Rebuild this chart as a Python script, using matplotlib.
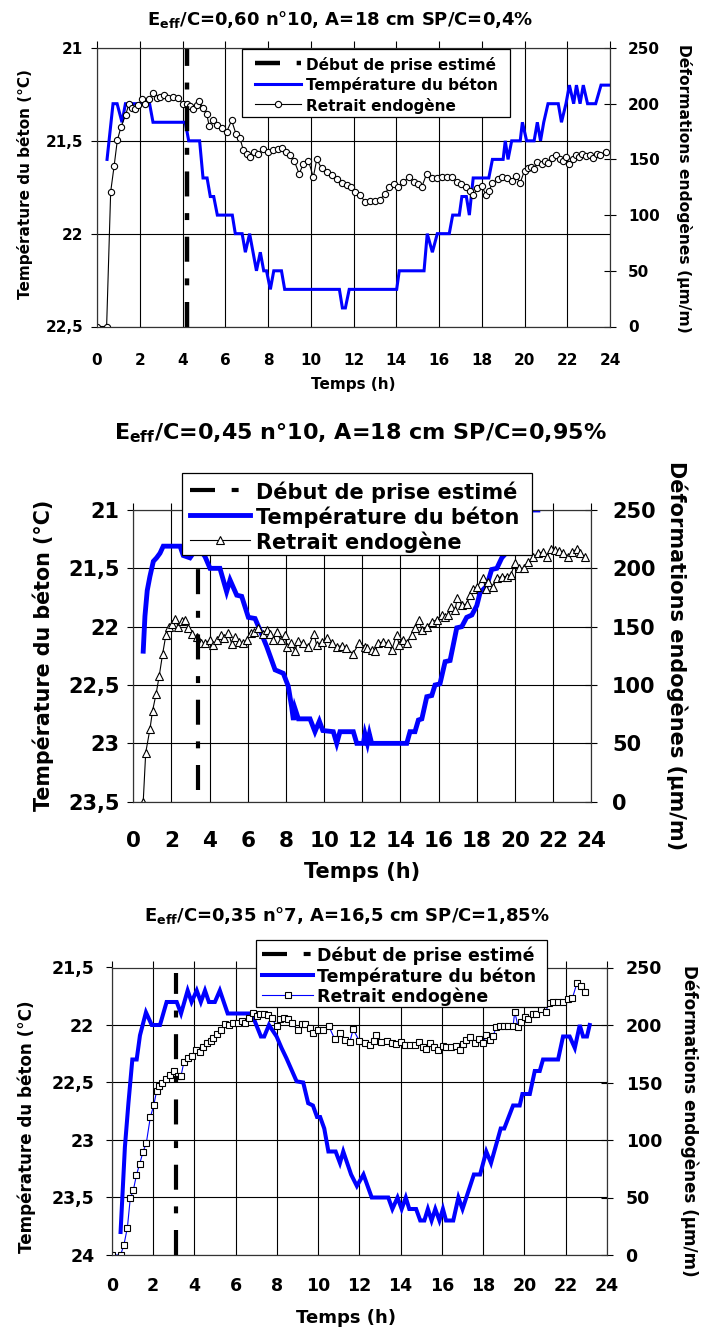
import matplotlib
matplotlib.use('Agg')
import matplotlib.pyplot as plt
from matplotlib.ticker import FuncFormatter
from matplotlib.lines import Line2D
from matplotlib.patches import Rectangle

plt.rcParams['font.family'] = ['DejaVu Sans']
plt.rcParams['font.weight'] = 'bold'
plt.rcParams['mathtext.fontset'] = 'custom'
plt.rcParams['mathtext.rm'] = 'DejaVu Sans:bold'
plt.rcParams['mathtext.it'] = 'DejaVu Sans:bold'
plt.rcParams['mathtext.bf'] = 'DejaVu Sans:bold'
plt.rcParams['lines.scale_dashes'] = False

# ---------------- data ----------------
titles = [r"E$_{\mathrm{eff}}$/C=0,60 n°10, A=18 cm SP/C=0,4%",
          r"E$_{\mathrm{eff}}$/C=0,45 n°10, A=18 cm SP/C=0,95%",
          r"E$_{\mathrm{eff}}$/C=0,35 n°7, A=16,5 cm SP/C=1,85%"]
legend_labels = ["Début de prise estimé", "Température du béton", "Retrait endogène"]
xlabel = "Temps (h)"
ylabel_left = "Température du béton (°C)"
ylabel_right = "Déformations endogènes (µm/m)"

# Panel 1
p1_temp_t = [0.47, 0.75, 0.94, 1.17, 1.33, 2.46, 2.62, 4.13, 4.29, 4.8, 4.96, 5.15, 5.3, 5.46, 5.63,
             6.33, 6.47, 6.79, 6.94, 7.14, 7.46, 7.64, 7.8, 7.93, 8.11, 8.27, 8.63, 8.78, 11.34, 11.48,
             11.62, 11.8, 14.02, 14.14, 15.3, 15.45, 15.69, 15.92, 16.48, 16.64, 16.95, 17.07, 17.28,
             17.42, 17.6, 18.33, 18.5, 19.0, 19.1, 19.23, 19.4, 19.8, 19.9, 20.1, 20.45, 20.6, 20.75,
             20.9, 21.1, 21.58, 21.73, 21.94, 22.1, 22.3, 22.43, 22.6, 22.75, 22.95, 23.33, 23.58, 24.0]
p1_temp_v = [21.6, 21.3, 21.3, 21.4, 21.3, 21.3, 21.4, 21.4, 21.5, 21.5, 21.7, 21.7, 21.8, 21.8, 21.9,
             21.9, 22.0, 22.0, 22.1, 22.0, 22.2, 22.1, 22.2, 22.2, 22.3, 22.2, 22.2, 22.3, 22.3, 22.4,
             22.4, 22.3, 22.3, 22.2, 22.2, 22.0, 22.1, 22.0, 22.0, 21.9, 21.9, 21.8, 21.8,
             21.9, 21.7, 21.7, 21.6, 21.6, 21.5, 21.6, 21.5, 21.5, 21.4, 21.5, 21.5, 21.4, 21.5,
             21.4, 21.3, 21.3, 21.4, 21.3, 21.2, 21.3, 21.2, 21.3, 21.2, 21.3, 21.3, 21.2, 21.2]
p1_def_t = [0.0, 0.45, 0.64, 0.8, 0.95, 1.12, 1.34, 1.5, 1.62, 1.78, 1.93, 2.12, 2.25, 2.43, 2.64, 2.79,
            2.95, 3.13, 3.34, 3.57, 3.8, 4.0, 4.2, 4.35, 4.5, 4.66, 4.79, 4.97, 5.13, 5.25, 5.41, 5.6,
            5.83, 6.07, 6.3, 6.5, 6.69, 6.85, 7.0, 7.16, 7.35, 7.55, 7.78, 8.02, 8.25, 8.48, 8.64, 8.84,
            9.03, 9.22, 9.46, 9.65, 9.89, 10.12, 10.28, 10.51, 10.75, 10.98, 11.21, 11.45, 11.68, 11.87,
            12.07, 12.3, 12.54, 12.77, 13.0, 13.24, 13.47, 13.67, 13.9, 14.1, 14.33, 14.61, 14.83, 15.03,
            15.19, 15.42, 15.66, 15.89, 16.13, 16.36, 16.59, 16.83, 17.05, 17.28, 17.45, 17.6, 17.8,
            18.0, 18.2, 18.35, 18.5, 18.75, 18.96, 19.2, 19.4, 19.6, 19.8, 20.0, 20.15, 20.3, 20.45,
            20.6, 20.8, 20.95, 21.1, 21.27, 21.48, 21.65, 21.8, 21.95, 22.1, 22.25, 22.4, 22.55, 22.7,
            22.9, 23.05, 23.2, 23.37, 23.55, 23.8]
p1_def_v = [0, 0, 121, 144, 167, 179, 190, 200, 196, 195, 199, 204, 200, 204, 210, 205,
            206, 208, 205, 206, 205, 200, 200, 198, 195, 199, 202, 196, 191, 180, 185, 181,
            178, 175, 185, 173, 169, 158, 155, 152, 157, 155, 159, 157, 158, 159, 160, 157,
            154, 149, 137, 146, 149, 134, 150, 142, 139, 136, 132, 129, 127, 125,
            121, 118, 112, 113, 113, 114, 119, 125, 128, 125, 130, 134, 130, 128,
            125, 137, 133, 133, 134, 134, 134, 130, 128, 125, 122, 118, 124,
            126, 118, 122, 129, 132, 134, 133, 131, 135, 129, 140, 142, 143, 141,
            148, 146, 149, 147, 151, 154, 150, 149, 152, 146, 150, 154, 152, 155,
            153, 154, 151, 155, 154, 157]
p1_prise = 4.2

# Panel 2
p2_temp_t = [0.52, 0.61, 0.73, 0.87, 1.05, 1.22, 1.4, 1.57, 2.45, 2.62, 2.97, 3.14, 3.5, 3.76, 4.02,
             4.54, 4.89, 5.07, 5.42, 5.68, 6.03, 6.38, 6.64, 6.99, 7.43, 7.86, 8.12, 8.3, 8.39, 8.47,
             8.65, 9.26, 9.52, 9.75, 9.93, 10.48, 10.66, 10.83, 11.53, 11.71, 12.06, 12.14, 12.27,
             12.37, 12.49, 14.33, 14.5, 14.76, 14.94, 15.12, 15.38, 15.64, 15.81, 16.07, 16.34, 16.6,
             16.95, 17.21, 17.47, 17.74, 18.0, 18.17, 18.52, 18.78, 19.05, 19.31, 19.53, 19.8, 20.1,
             20.4, 20.7, 21.0, 21.2]
p2_temp_v = [22.21, 21.91, 21.69, 21.57, 21.44, 21.41, 21.37, 21.31, 21.31, 21.39, 21.41, 21.37, 21.34,
             21.4, 21.5, 21.5, 21.7, 21.6, 21.73, 21.74, 21.92, 21.93, 22.03, 22.17, 22.37, 22.4, 22.51,
             22.69, 22.8, 22.7, 22.79, 22.79, 22.9, 22.81, 22.89, 22.9, 23.0, 22.9, 22.9, 23.0, 23.0,
             22.92, 23.0, 22.92, 23.0, 23.0, 22.9, 22.9, 22.8, 22.79, 22.6, 22.59, 22.5, 22.49, 22.3,
             22.29, 22.01, 22.0, 21.92, 21.9, 21.82, 21.71, 21.65, 21.51, 21.5, 21.41, 21.37, 21.25,
             21.15, 21.05, 21.0, 21.0, 21.0]
p2_def_t = [0.52, 0.65, 0.87, 1.01, 1.19, 1.36, 1.54, 1.71, 1.87, 2.04, 2.19, 2.36, 2.53, 2.71, 2.88,
            3.06, 3.32, 3.55, 3.76, 4.02, 4.19, 4.4, 4.58, 4.75, 4.98, 5.16, 5.33, 5.56, 5.77, 5.97,
            6.15, 6.33, 6.55, 6.78, 6.99, 7.16, 7.34, 7.51, 7.72, 7.95, 8.04, 8.25, 8.47, 8.65, 8.91,
            9.17, 9.47, 9.61, 9.87, 10.13, 10.4, 10.66, 10.92, 11.15, 11.5, 11.85, 12.14, 12.23, 12.49,
            12.67, 12.84, 13.1, 13.36, 13.54, 13.8, 13.94, 14.15, 14.33, 14.59, 14.76, 14.99, 15.12,
            15.38, 15.64, 15.9, 16.16, 16.34, 16.51, 16.64, 16.86, 16.98, 17.21, 17.47, 17.65, 17.82,
            18.0, 18.31, 18.48, 18.61, 18.84, 19.05, 19.31, 19.57, 19.78, 20.0, 20.23, 20.47, 20.7,
            20.97, 21.23, 21.46, 21.67, 21.88, 22.1, 22.33, 22.54, 22.8, 22.98, 23.24, 23.41, 23.68]
p2_def_v = [0, 42, 62, 78, 92, 108, 127, 143, 149.5, 152, 157, 149.5, 155, 155.7, 148.6,
            144, 141, 136, 136, 138.6, 134, 138.6, 143, 140, 145, 135, 141, 137, 135.7, 139,
            145, 145.7, 148.6, 144, 147, 143.7, 138.6, 145.7, 138.6, 143, 133, 135.7, 129.4, 138, 135.7,
            133, 143.7, 134, 137, 140, 135.7, 133, 133.5, 131.5, 127, 135.7, 133, 131.5, 130,
            129.4, 136, 137, 135.7, 130, 143, 134, 138.6, 135.7, 143, 148.6, 155.7, 147,
            150, 154.3, 155.7, 160, 158.6, 160, 167, 164.3, 175, 168.6, 169.4, 177, 182,
            183.7, 191.5, 182, 188.6, 184, 191.5, 193, 193, 194.3, 204.3, 200, 200, 205.7,
            209.4, 212.9, 214.3, 210, 216.3, 215.7, 215, 213.4, 210, 214.3, 216.3, 212.9, 209.4]
p2_prise = 3.39

# Panel 3
p3_temp_t = [0.43, 0.64, 0.81, 1.0, 1.21, 1.37, 1.66, 1.94, 2.34, 2.66, 3.15, 3.36, 3.68, 3.87, 4.12,
             4.32, 4.52, 4.71, 5.0, 5.24, 5.62, 6.78, 6.94, 7.23, 7.39, 7.62, 7.99, 8.23, 8.47, 8.96,
             9.28, 9.52, 9.75, 9.95, 10.1, 10.3, 10.5, 10.85, 11.06, 11.22, 11.6, 11.88, 12.2, 12.6,
             13.4, 13.6, 13.85, 14.05, 14.25, 14.42, 14.75, 14.95, 15.15, 15.32, 15.5, 15.68, 15.88,
             16.05, 16.2, 16.55, 16.8, 17.0, 17.55, 17.85, 18.15, 18.38, 18.85, 19.02, 19.45, 19.77,
             19.9, 20.26, 20.5, 20.74, 20.9, 21.63, 21.87, 22.19, 22.44, 22.68, 22.84, 23.03, 23.16]
p3_temp_v = [23.8, 23.06, 22.68, 22.3, 22.3, 22.09, 21.89, 22.0, 22.0, 21.8, 21.8, 21.9, 21.7, 21.8, 21.7,
             21.8, 21.7, 21.8, 21.8, 21.7, 21.9, 21.9, 21.97, 22.1, 22.1, 22.0, 22.1, 22.2, 22.29, 22.49,
             22.5, 22.68, 22.7, 22.8, 22.8, 22.9, 23.1, 23.1, 23.2, 23.1, 23.3, 23.4, 23.3, 23.5,
             23.5, 23.6, 23.5, 23.6, 23.5, 23.6, 23.6, 23.7, 23.7, 23.6, 23.7, 23.6, 23.7,
             23.6, 23.7, 23.7, 23.5, 23.6, 23.3, 23.3, 23.1, 23.2, 22.9, 22.9, 22.7, 22.7,
             22.6, 22.6, 22.4, 22.4, 22.3, 22.3, 22.1, 22.1, 22.2, 22.0, 22.1, 22.1, 22.0]
p3_def_t = [0.0, 0.43, 0.59, 0.76, 0.9, 1.05, 1.2, 1.36, 1.52, 1.68, 1.87, 2.04, 2.18, 2.31, 2.45, 2.61,
            2.82, 3.02, 3.2, 3.36, 3.5, 3.71, 3.9, 4.07, 4.28, 4.44, 4.6, 4.81, 4.92, 5.08, 5.29, 5.49,
            5.68, 5.89, 6.1, 6.3, 6.46, 6.65, 6.86, 7.02, 7.18, 7.39, 7.58, 7.75, 7.99, 8.15, 8.34,
            8.55, 8.75, 9.01, 9.2, 9.39, 9.6, 9.76, 10.0, 10.25, 10.52, 10.81, 11.06, 11.3, 11.54,
            11.7, 11.99, 12.27, 12.51, 12.7, 12.83, 13.07, 13.32, 13.56, 13.8, 14.0, 14.2, 14.45,
            14.69, 14.9, 15.06, 15.22, 15.41, 15.61, 15.82, 16.03, 16.22, 16.46, 16.67, 16.87, 17.03,
            17.19, 17.38, 17.59, 17.8, 18.0, 18.16, 18.32, 18.48, 18.64, 18.8, 19.0, 19.2, 19.45,
            19.53, 19.69, 19.85, 20.01, 20.17, 20.42, 20.58, 20.82, 21.03, 21.19, 21.38, 21.63, 21.87,
            22.11, 22.32, 22.55, 22.76, 22.92]
p3_def_v = [0, 0, 8.7, 23.8, 49.3, 56.5, 69.6, 79.5, 89.8, 97.7, 119.7, 130.4, 142.9, 147, 149.3, 153,
            156.5, 160.3, 155.7, 155.7, 168, 171, 173.3, 178.3, 176.8, 180.6, 184, 186, 188.4, 192, 195.7,
            200.9, 200, 201.5, 201.5, 203.7, 201.5, 205.8, 210.7, 207.8, 209.3, 209.3, 208.7, 205.8, 199,
            205, 205.8, 205, 201.5, 195.7, 200.9, 200.9, 197, 193.3, 195.7, 196, 199, 187.6, 193.3, 187,
            185.5, 196.3, 186.4, 184, 182.6, 186.4, 191.3, 185.5, 186.4, 184, 183.5, 185.5, 182.6, 182.6,
            182.6, 185.5, 180.6, 178.8, 184.6, 180.6, 178.3, 181.7, 180.6, 180.6, 181.7, 178.3, 183.5,
            187, 189.3, 184, 187.6, 184, 191.3, 187, 190.4, 198.5, 199, 199, 199, 199,
            211.6, 198.5, 202.9, 206.7, 205, 209.6, 210, 213.6, 211.6, 218.9, 220.3, 219.6, 219.6,
            222.3, 223.2, 236.8, 233.9, 229]
p3_prise = 3.1

x_ticks = list(range(0, 25, 2))
right_ticks = [0, 50, 100, 150, 200, 250]

W, H = 704, 1329
fig = plt.figure(figsize=(W / 100, H / 100), dpi=100)

comma = FuncFormatter(lambda v, p: ('%g' % v).replace('.', ','))
dash_style = (0, (18, 12, 5, 12))


def fx(px):
    return px / W


def fy(py):
    return 1 - py / H


def px_rect(l, t, r, b):
    return [l / W, 1 - b / H, (r - l) / W, (b - t) / H]


def legend_box(box, rows_y, handle_x, text_x, fs, styles):
    l, t, r, b = box
    fig.add_artist(Rectangle((fx(l), fy(b)), fx(r) - fx(l), fy(t) - fy(b),
                             transform=fig.transFigure, facecolor='white',
                             edgecolor='black', lw=0.9, zorder=5))
    for y, st, lab in zip(rows_y, styles, legend_labels):
        ln = Line2D([fx(handle_x[0]), fx(handle_x[1])], [fy(y), fy(y)],
                    transform=fig.transFigure, zorder=6, **st['line'])
        fig.add_artist(ln)
        if 'marker' in st:
            mk = Line2D([fx((handle_x[0] + handle_x[1]) / 2)], [fy(y)], transform=fig.transFigure,
                        zorder=7, lw=0, **st['marker'])
            fig.add_artist(mk)
        fig.text(fx(text_x), fy(y), lab, ha='left', va='center_baseline', fontsize=fs,
                 fontweight='bold', zorder=7)


def panel(rect, temp_t, temp_v, def_t, def_v, prise, tlim, prise_y,
          marker, ms, mcolor_line, mlw, blue_lw, dash_lw,
          tick_fs, xtick_fs, xpad, lpad, rpad):
    ax = fig.add_axes(rect)
    ax2 = ax.twinx()
    ax.set_xlim(0, 24)
    ax.set_ylim(tlim[1], tlim[0])
    ax2.set_ylim(0, 250)
    ax.set_yticks([tlim[0] + 0.5 * i for i in range(int(round((tlim[1] - tlim[0]) / 0.5)) + 1)])
    ax.yaxis.set_major_formatter(comma)
    ax.set_xticks(x_ticks)
    ax2.set_yticks(right_ticks)
    ax.grid(True, color='black', lw=0.8)
    ax.set_axisbelow(True)
    for a in (ax, ax2):
        for s in a.spines.values():
            s.set_color('#333333')
            s.set_linewidth(0.8)
    ax.tick_params(axis='x', top=True, bottom=False, direction='out', length=5,
                   labelsize=xtick_fs, pad=xpad, width=0.8)
    ax.tick_params(axis='y', direction='out', length=4, labelsize=tick_fs, pad=lpad, width=0.8)
    ax2.tick_params(axis='y', direction='inout', length=8, labelsize=tick_fs, pad=rpad, width=0.8)
    for lab in ax.get_xticklabels() + ax.get_yticklabels() + ax2.get_yticklabels():
        lab.set_fontweight('bold')

    ax.plot(temp_t, temp_v, color='#0000FF', lw=blue_lw, solid_joinstyle='miter')
    ax2.plot(def_t, def_v, color=mcolor_line, lw=mlw, marker=marker, ms=ms,
             mfc='white', mec='black', mew=0.8)
    ax2.plot([prise, prise], prise_y, color='black', lw=dash_lw, linestyle=dash_style,
             dash_capstyle='butt')
    styles = [dict(line=dict(color='black', lw=dash_lw, linestyle=dash_style, dash_capstyle='butt')),
              dict(line=dict(color='#0000FF', lw=blue_lw)),
              dict(line=dict(color=mcolor_line, lw=mlw),
                   marker=dict(marker=marker, ms=ms, mfc='white', mec='black', mew=0.8))]
    return ax, ax2, styles


# Panel 1
_, _, st1 = panel(px_rect(97, 48, 610, 326.5), p1_temp_t, p1_temp_v, p1_def_t, p1_def_v, p1_prise,
                  (21.0, 22.5), [0, 250], 'o', 4.5, 'black', 0.8, 2.2, 3.2,
                  11, 11, 14, 6, 9)
legend_box((241.7, 49.3, 510.5, 116.5), [63.3, 83.6, 104], (255, 301), 305.5, 11, st1)
fig.text(fx(340), fy(20), titles[0], ha='center', va='center', fontsize=13, fontweight='bold')
fig.text(fx(353), fy(385), xlabel, ha='center', va='center', fontsize=11, fontweight='bold')
fig.text(fx(25), fy(184), ylabel_left, ha='center', va='center', rotation=90, fontsize=11, fontweight='bold')
fig.text(fx(684), fy(188), ylabel_right, ha='center', va='center', rotation=-90, fontsize=11.2, fontweight='bold')

# Panel 2
_, _, st2 = panel(px_rect(133.3, 510, 591.3, 801.7), p2_temp_t, p2_temp_v, p2_def_t, p2_def_v, p2_prise,
                  (21.0, 23.5), [10, 250], '^', 6, 'black', 0.8, 3.5, 3.0,
                  15, 15.5, 16, 6, 11)
legend_box((181.7, 473.3, 532.3, 555), [490, 515, 540], (190, 250), 256.5, 15, st2)
fig.text(fx(360), fy(433), titles[1], ha='center', va='center', fontsize=16, fontweight='bold')
fig.text(fx(362), fy(872), xlabel, ha='center', va='center', fontsize=15, fontweight='bold')
fig.text(fx(43), fy(655), ylabel_left, ha='center', va='center', rotation=90, fontsize=14.9, fontweight='bold')
fig.text(fx(677), fy(656), ylabel_right, ha='center', va='center', rotation=-90, fontsize=15, fontweight='bold')

# Panel 3
_, _, st3 = panel(px_rect(111.7, 967.5, 607, 1255), p3_temp_t, p3_temp_v, p3_def_t, p3_def_v, p3_prise,
                  (21.5, 24.0), [0, 245], 's', 4, '#0000FF', 0.8, 2.9, 3.0,
                  12.5, 12.5, 11, 8.5, 9.4)
legend_box((255.7, 940, 546.7, 1006.7), [953.5, 974.5, 995], (262, 313), 317, 12.5, st3)
fig.text(fx(346.5), fy(915), titles[2], ha='center', va='center', fontsize=13, fontweight='bold')
fig.text(fx(346), fy(1318), xlabel, ha='center', va='center', fontsize=13, fontweight='bold')
fig.text(fx(27), fy(1127), ylabel_left, ha='center', va='center', rotation=90, fontsize=12.1, fontweight='bold')
fig.text(fx(689), fy(1121), ylabel_right, ha='center', va='center', rotation=-90, fontsize=12.1, fontweight='bold')

fig.savefig('out.png', dpi=100)
